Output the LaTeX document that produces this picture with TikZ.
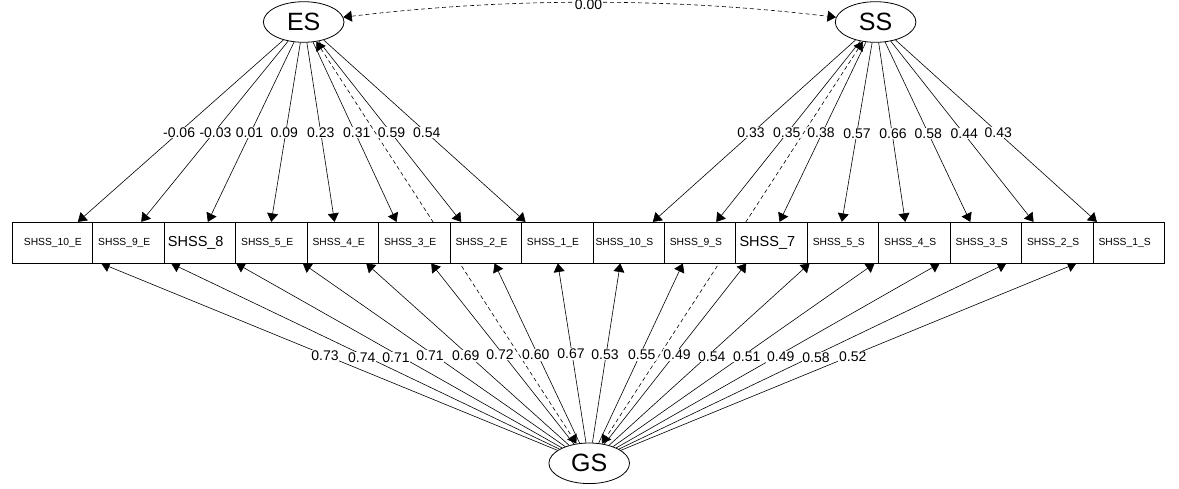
\documentclass[tikz,border=0pt]{standalone}
\usepackage{fontspec}
\setmainfont{Liberation Sans}
\usetikzlibrary{arrows.meta,shapes.geometric,backgrounds}
\begin{document}
\begin{tikzpicture}[x=1pt,y=-1pt,
  lat/.style={ellipse, draw, line width=0.8pt, fill=white, minimum width=80.6pt, minimum height=40.6pt, inner sep=0pt, font=\fontsize{25}{25}\selectfont},
  obs/.style={rectangle, draw, line width=0.9pt, fill=white, minimum width=80pt, minimum height=40.7pt, inner sep=0pt, anchor=east, font=\fontsize{10.3}{11}\selectfont},
  obsbig/.style={obs, font=\fontsize{14.5}{15}\selectfont},
  ldg/.style={line width=0.6pt, -{Triangle[length=8.5pt,width=11pt]}},
  cov/.style={line width=0.6pt, dash pattern=on 4pt off 3pt, {Triangle[length=8.5pt,width=11pt]}-{Triangle[length=8.5pt,width=11pt]}},
  lbl/.style={fill=white, inner sep=0.7pt, font=\fontsize{14}{14}\selectfont}
]
\useasboundingbox (0,0) rectangle (1179,488);
% latent variables
\node[lat] (ES) at (303.7,22) {ES};
\node[lat] (SS) at (875.6,22) {SS};
\node[lat] (GS) at (589.2,463.3) {GS};
% observed boxes (drawn right to left so each covers the next one's left part)
\node[obs] (b16) at (1165.05,242.65) {SHSS\_1\_S};
\node[obs] (b15) at (1093.6,242.65) {SHSS\_2\_S};
\node[obs] (b14) at (1022.15,242.65) {SHSS\_3\_S};
\node[obs] (b13) at (950.7,242.65) {SHSS\_4\_S};
\node[obs] (b12) at (879.25,242.65) {SHSS\_5\_S};
\node[obsbig] (b11) at (807.8,242.65) {SHSS\_7};
\node[obs] (b10) at (736.35,242.65) {SHSS\_9\_S};
\node[obs] (b9) at (664.9,242.65) {SHSS\_10\_S};
\node[obs] (b8) at (593.45,242.65) {SHSS\_1\_E};
\node[obs] (b7) at (522,242.65) {SHSS\_2\_E};
\node[obs] (b6) at (450.55,242.65) {SHSS\_3\_E};
\node[obs] (b5) at (379.1,242.65) {SHSS\_4\_E};
\node[obs] (b4) at (307.65,242.65) {SHSS\_5\_E};
\node[obsbig] (b3) at (236.2,242.65) {SHSS\_8};
\node[obs] (b2) at (164.75,242.65) {SHSS\_9\_E};
\node[obs] (b1) at (93.3,242.65) {SHSS\_10\_E};
% connectors behind the boxes
\begin{scope}[on background layer]
  \draw[ldg] (ES) -- ([xshift=25pt]b1.north);
  \draw[ldg] (ES) -- ([xshift=16.95pt]b2.north);
  \draw[ldg] (ES) -- ([xshift=12.1pt]b3.north);
  \draw[ldg] (ES) -- ([xshift=4.05pt]b4.north);
  \draw[ldg] (ES) -- ([xshift=-4.1pt]b5.north);
  \draw[ldg] (ES) -- ([xshift=-13.55pt]b6.north);
  \draw[ldg] (ES) -- ([xshift=-20.3pt]b7.north);
  \draw[ldg] (ES) -- ([xshift=-27.45pt]b8.north);
  \draw[ldg] (SS) -- ([xshift=28.4pt]b9.north);
  \draw[ldg] (SS) -- ([xshift=20.35pt]b10.north);
  \draw[ldg] (SS) -- ([xshift=12.2pt]b11.north);
  \draw[ldg] (SS) -- ([xshift=3.05pt]b12.north);
  \draw[ldg] (SS) -- ([xshift=-5pt]b13.north);
  \draw[ldg] (SS) -- ([xshift=-11.45pt]b14.north);
  \draw[ldg] (SS) -- ([xshift=-19.6pt]b15.north);
  \draw[ldg] (SS) -- ([xshift=-27.75pt]b16.north);
  \draw[ldg] (GS) -- ([xshift=48.4pt]b1.south);
  \draw[ldg] (GS) -- ([xshift=46.95pt]b2.south);
  \draw[ldg] (GS) -- ([xshift=40.5pt]b3.south);
  \draw[ldg] (GS) -- ([xshift=35.65pt]b4.south);
  \draw[ldg] (GS) -- ([xshift=27.6pt]b5.south);
  \draw[ldg] (GS) -- ([xshift=21.15pt]b6.south);
  \draw[ldg] (GS) -- ([xshift=13pt]b7.south);
  \draw[ldg] (GS) -- ([xshift=4.85pt]b8.south);
  \draw[ldg] (GS) -- ([xshift=-4.2pt]b9.south);
  \draw[ldg] (GS) -- ([xshift=-13.05pt]b10.south);
  \draw[ldg] (GS) -- ([xshift=-21.1pt]b11.south);
  \draw[ldg] (GS) -- ([xshift=-29.25pt]b12.south);
  \draw[ldg] (GS) -- ([xshift=-35.7pt]b13.south);
  \draw[ldg] (GS) -- ([xshift=-42.15pt]b14.south);
  \draw[ldg] (GS) -- ([xshift=-46.9pt]b15.south);
  \draw[ldg] (GS) -- ([xshift=-48.35pt]b16.south);
  \draw[cov] (ES) -- (GS);
  \draw[cov] (SS) -- (GS);
  \draw[cov] (ES) .. controls (507,-2.5) and (671,-2.5) .. (SS);
\end{scope}
% edge labels
\node[lbl] (l00) at (588.5,4.5) {0.00};
\node[lbl] (lE1) at (179.1,132.7) {-0.06};
\node[lbl] (lE2) at (215.5,132.7) {-0.03};
\node[lbl] (lE3) at (249.5,132.7) {0.01};
\node[lbl] (lE4) at (284.3,132.7) {0.09};
\node[lbl] (lE5) at (320.7,132.7) {0.23};
\node[lbl] (lE6) at (356.7,132.7) {0.31};
\node[lbl] (lE7) at (391.5,132.7) {0.59};
\node[lbl] (lE8) at (426.7,132.2) {0.54};
\node[lbl] (lS1) at (751,132.2) {0.33};
\node[lbl] (lS2) at (786.7,132.7) {0.35};
\node[lbl] (lS3) at (821,132.7) {0.38};
\node[lbl] (lS4) at (857,133.3) {0.57};
\node[lbl] (lS5) at (893,133.3) {0.66};
\node[lbl] (lS6) at (928.3,133.3) {0.58};
\node[lbl] (lS7) at (964.2,133.3) {0.44};
\node[lbl] (lS8) at (998.3,132.7) {0.43};
\node[lbl] (lG1) at (325,355.7) {0.73};
\node[lbl] (lG2) at (361.7,357.3) {0.74};
\node[lbl] (lG3) at (396,357.3) {0.71};
\node[lbl] (lG4) at (430,356) {0.71};
\node[lbl] (lG5) at (465.7,356) {0.69};
\node[lbl] (lG6) at (500,354.7) {0.72};
\node[lbl] (lG7) at (535.7,355) {0.60};
\node[lbl] (lG8) at (571,354) {0.67};
\node[lbl] (lG9) at (605,354.7) {0.53};
\node[lbl] (lG10) at (641.7,355) {0.55};
\node[lbl] (lG11) at (677,355) {0.49};
\node[lbl] (lG12) at (711.7,356.3) {0.54};
\node[lbl] (lG13) at (746.7,356.3) {0.51};
\node[lbl] (lG14) at (780.7,357) {0.49};
\node[lbl] (lG15) at (816,357.3) {0.58};
\node[lbl] (lG16) at (852.7,356.3) {0.52};
\end{tikzpicture}
\end{document}
